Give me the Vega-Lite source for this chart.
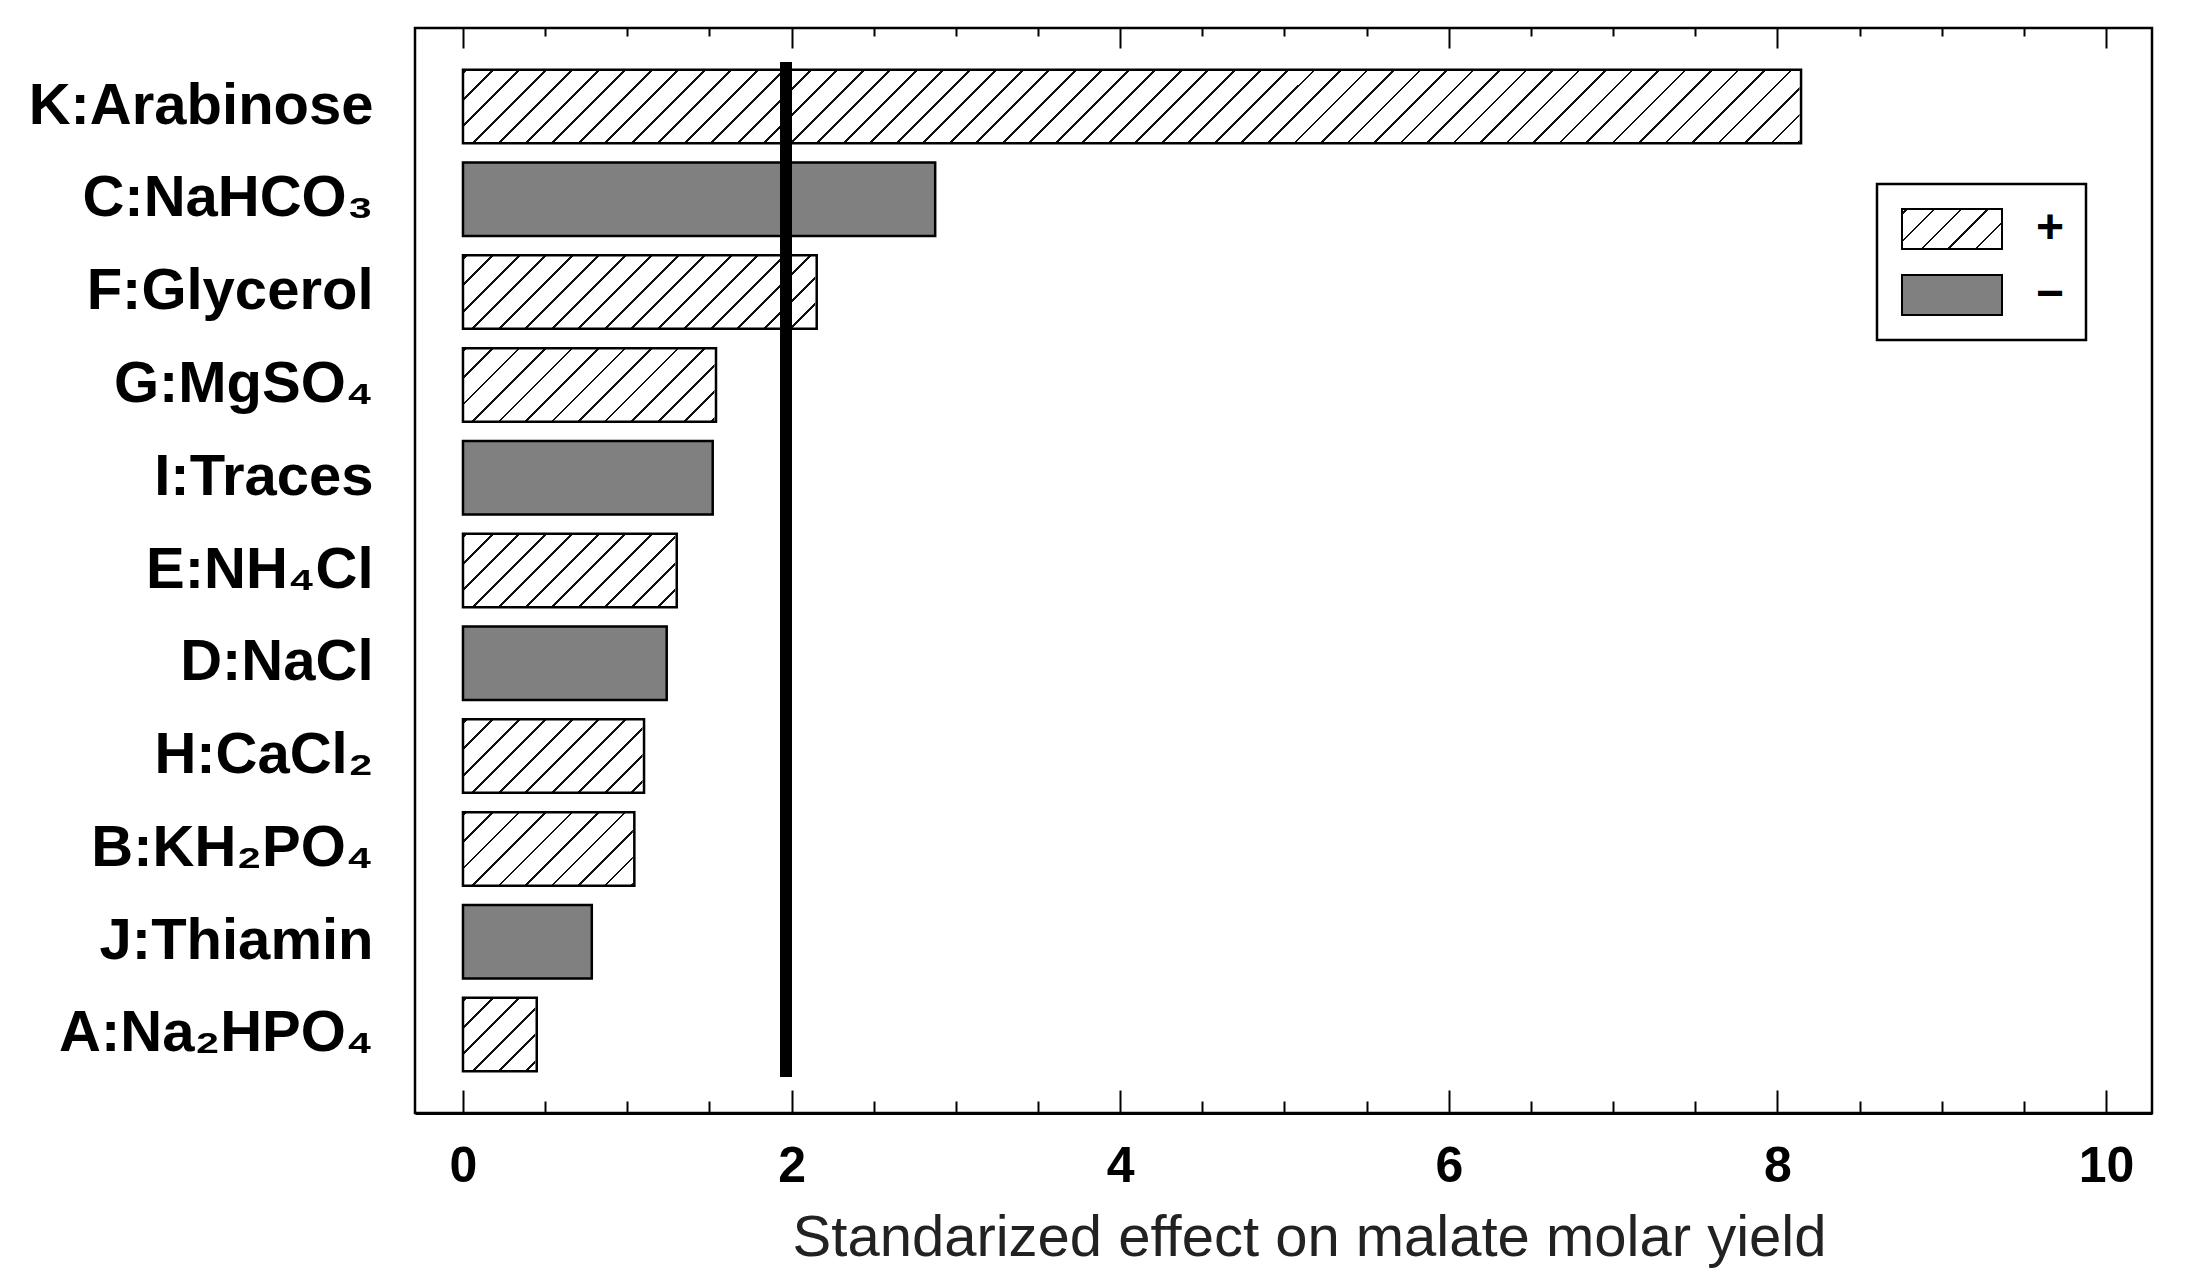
{
  "$schema": "https://vega.github.io/schema/vega-lite/v6.json",
  "width": 1737,
  "height": 1085,
  "autosize": {"type": "none"},
  "padding": {"left": 415, "top": 28, "right": 35, "bottom": 171},
  "background": "white",
  "config": {
    "view": {"stroke": "black", "strokeWidth": 2.5},
    "font": "Liberation Sans",
    "legend": {"strokeWidth": 2.5}
  },
  "data": {
    "values": [
      {"factor": "K:Arabinose", "effect": 8.144, "sign": "+"},
      {"factor": "C:NaHCO₃", "effect": 2.874, "sign": "−"},
      {"factor": "F:Glycerol", "effect": 2.153, "sign": "+"},
      {"factor": "G:MgSO₄", "effect": 1.540, "sign": "+"},
      {"factor": "I:Traces", "effect": 1.520, "sign": "−"},
      {"factor": "E:NH₄Cl", "effect": 1.301, "sign": "+"},
      {"factor": "D:NaCl", "effect": 1.240, "sign": "−"},
      {"factor": "H:CaCl₂", "effect": 1.102, "sign": "+"},
      {"factor": "B:KH₂PO₄", "effect": 1.043, "sign": "+"},
      {"factor": "J:Thiamin", "effect": 0.784, "sign": "−"},
      {"factor": "A:Na₂HPO₄", "effect": 0.449, "sign": "+"}
    ]
  },
  "resolve": {"axis": {"x": "independent", "y": "independent"}},
  "layer": [
    {
      "transform": [{"filter": "datum.sign === '+'"}],
      "mark": {
        "type": "bar",
        "strokeWidth": 0,
        "fill": {
          "gradient": "linear", "x1": 0, "y1": 0, "x2": 1.04265, "y2": 0.046643,
          "stops": [
            {"offset": 0, "color": "#fff"},
            {"offset": 0.001166, "color": "#fff"}, {"offset": 0.001166, "color": "#111"}, {"offset": 0.002796, "color": "#111"}, {"offset": 0.002796, "color": "#fff"},
            {"offset": 0.016609, "color": "#fff"}, {"offset": 0.016609, "color": "#111"}, {"offset": 0.018239, "color": "#111"}, {"offset": 0.018239, "color": "#fff"},
            {"offset": 0.032052, "color": "#fff"}, {"offset": 0.032052, "color": "#111"}, {"offset": 0.033682, "color": "#111"}, {"offset": 0.033682, "color": "#fff"},
            {"offset": 0.047495, "color": "#fff"}, {"offset": 0.047495, "color": "#111"}, {"offset": 0.049125, "color": "#111"}, {"offset": 0.049125, "color": "#fff"},
            {"offset": 0.062938, "color": "#fff"}, {"offset": 0.062938, "color": "#111"}, {"offset": 0.064568, "color": "#111"}, {"offset": 0.064568, "color": "#fff"},
            {"offset": 0.078381, "color": "#fff"}, {"offset": 0.078381, "color": "#111"}, {"offset": 0.080011, "color": "#111"}, {"offset": 0.080011, "color": "#fff"},
            {"offset": 0.093824, "color": "#fff"}, {"offset": 0.093824, "color": "#111"}, {"offset": 0.095454, "color": "#111"}, {"offset": 0.095454, "color": "#fff"},
            {"offset": 0.109267, "color": "#fff"}, {"offset": 0.109267, "color": "#111"}, {"offset": 0.110897, "color": "#111"}, {"offset": 0.110897, "color": "#fff"},
            {"offset": 0.124710, "color": "#fff"}, {"offset": 0.124710, "color": "#111"}, {"offset": 0.126340, "color": "#111"}, {"offset": 0.126340, "color": "#fff"},
            {"offset": 0.140153, "color": "#fff"}, {"offset": 0.140153, "color": "#111"}, {"offset": 0.141783, "color": "#111"}, {"offset": 0.141783, "color": "#fff"},
            {"offset": 0.155596, "color": "#fff"}, {"offset": 0.155596, "color": "#111"}, {"offset": 0.157226, "color": "#111"}, {"offset": 0.157226, "color": "#fff"},
            {"offset": 0.171039, "color": "#fff"}, {"offset": 0.171039, "color": "#111"}, {"offset": 0.172669, "color": "#111"}, {"offset": 0.172669, "color": "#fff"},
            {"offset": 0.186482, "color": "#fff"}, {"offset": 0.186482, "color": "#111"}, {"offset": 0.188112, "color": "#111"}, {"offset": 0.188112, "color": "#fff"},
            {"offset": 0.201925, "color": "#fff"}, {"offset": 0.201925, "color": "#111"}, {"offset": 0.203555, "color": "#111"}, {"offset": 0.203555, "color": "#fff"},
            {"offset": 0.217368, "color": "#fff"}, {"offset": 0.217368, "color": "#111"}, {"offset": 0.218998, "color": "#111"}, {"offset": 0.218998, "color": "#fff"},
            {"offset": 0.232811, "color": "#fff"}, {"offset": 0.232811, "color": "#111"}, {"offset": 0.234441, "color": "#111"}, {"offset": 0.234441, "color": "#fff"},
            {"offset": 0.248254, "color": "#fff"}, {"offset": 0.248254, "color": "#111"}, {"offset": 0.249884, "color": "#111"}, {"offset": 0.249884, "color": "#fff"},
            {"offset": 0.263697, "color": "#fff"}, {"offset": 0.263697, "color": "#111"}, {"offset": 0.265327, "color": "#111"}, {"offset": 0.265327, "color": "#fff"},
            {"offset": 0.279140, "color": "#fff"}, {"offset": 0.279140, "color": "#111"}, {"offset": 0.280770, "color": "#111"}, {"offset": 0.280770, "color": "#fff"},
            {"offset": 0.294583, "color": "#fff"}, {"offset": 0.294583, "color": "#111"}, {"offset": 0.296213, "color": "#111"}, {"offset": 0.296213, "color": "#fff"},
            {"offset": 0.310026, "color": "#fff"}, {"offset": 0.310026, "color": "#111"}, {"offset": 0.311656, "color": "#111"}, {"offset": 0.311656, "color": "#fff"},
            {"offset": 0.325469, "color": "#fff"}, {"offset": 0.325469, "color": "#111"}, {"offset": 0.327099, "color": "#111"}, {"offset": 0.327099, "color": "#fff"},
            {"offset": 0.340912, "color": "#fff"}, {"offset": 0.340912, "color": "#111"}, {"offset": 0.342542, "color": "#111"}, {"offset": 0.342542, "color": "#fff"},
            {"offset": 0.356355, "color": "#fff"}, {"offset": 0.356355, "color": "#111"}, {"offset": 0.357985, "color": "#111"}, {"offset": 0.357985, "color": "#fff"},
            {"offset": 0.371798, "color": "#fff"}, {"offset": 0.371798, "color": "#111"}, {"offset": 0.373428, "color": "#111"}, {"offset": 0.373428, "color": "#fff"},
            {"offset": 0.387241, "color": "#fff"}, {"offset": 0.387241, "color": "#111"}, {"offset": 0.388871, "color": "#111"}, {"offset": 0.388871, "color": "#fff"},
            {"offset": 0.402684, "color": "#fff"}, {"offset": 0.402684, "color": "#111"}, {"offset": 0.404314, "color": "#111"}, {"offset": 0.404314, "color": "#fff"},
            {"offset": 0.418127, "color": "#fff"}, {"offset": 0.418127, "color": "#111"}, {"offset": 0.419757, "color": "#111"}, {"offset": 0.419757, "color": "#fff"},
            {"offset": 0.433570, "color": "#fff"}, {"offset": 0.433570, "color": "#111"}, {"offset": 0.435200, "color": "#111"}, {"offset": 0.435200, "color": "#fff"},
            {"offset": 0.449013, "color": "#fff"}, {"offset": 0.449013, "color": "#111"}, {"offset": 0.450643, "color": "#111"}, {"offset": 0.450643, "color": "#fff"},
            {"offset": 0.464456, "color": "#fff"}, {"offset": 0.464456, "color": "#111"}, {"offset": 0.466086, "color": "#111"}, {"offset": 0.466086, "color": "#fff"},
            {"offset": 0.479899, "color": "#fff"}, {"offset": 0.479899, "color": "#111"}, {"offset": 0.481529, "color": "#111"}, {"offset": 0.481529, "color": "#fff"},
            {"offset": 0.495342, "color": "#fff"}, {"offset": 0.495342, "color": "#111"}, {"offset": 0.496972, "color": "#111"}, {"offset": 0.496972, "color": "#fff"},
            {"offset": 0.510785, "color": "#fff"}, {"offset": 0.510785, "color": "#111"}, {"offset": 0.512415, "color": "#111"}, {"offset": 0.512415, "color": "#fff"},
            {"offset": 0.526228, "color": "#fff"}, {"offset": 0.526228, "color": "#111"}, {"offset": 0.527858, "color": "#111"}, {"offset": 0.527858, "color": "#fff"},
            {"offset": 0.541671, "color": "#fff"}, {"offset": 0.541671, "color": "#111"}, {"offset": 0.543301, "color": "#111"}, {"offset": 0.543301, "color": "#fff"},
            {"offset": 0.557114, "color": "#fff"}, {"offset": 0.557114, "color": "#111"}, {"offset": 0.558744, "color": "#111"}, {"offset": 0.558744, "color": "#fff"},
            {"offset": 0.572557, "color": "#fff"}, {"offset": 0.572557, "color": "#111"}, {"offset": 0.574187, "color": "#111"}, {"offset": 0.574187, "color": "#fff"},
            {"offset": 0.588000, "color": "#fff"}, {"offset": 0.588000, "color": "#111"}, {"offset": 0.589630, "color": "#111"}, {"offset": 0.589630, "color": "#fff"},
            {"offset": 0.603443, "color": "#fff"}, {"offset": 0.603443, "color": "#111"}, {"offset": 0.605073, "color": "#111"}, {"offset": 0.605073, "color": "#fff"},
            {"offset": 0.618886, "color": "#fff"}, {"offset": 0.618886, "color": "#111"}, {"offset": 0.620516, "color": "#111"}, {"offset": 0.620516, "color": "#fff"},
            {"offset": 0.634329, "color": "#fff"}, {"offset": 0.634329, "color": "#111"}, {"offset": 0.635959, "color": "#111"}, {"offset": 0.635959, "color": "#fff"},
            {"offset": 0.649772, "color": "#fff"}, {"offset": 0.649772, "color": "#111"}, {"offset": 0.651402, "color": "#111"}, {"offset": 0.651402, "color": "#fff"},
            {"offset": 0.665215, "color": "#fff"}, {"offset": 0.665215, "color": "#111"}, {"offset": 0.666845, "color": "#111"}, {"offset": 0.666845, "color": "#fff"},
            {"offset": 0.680658, "color": "#fff"}, {"offset": 0.680658, "color": "#111"}, {"offset": 0.682288, "color": "#111"}, {"offset": 0.682288, "color": "#fff"},
            {"offset": 0.696101, "color": "#fff"}, {"offset": 0.696101, "color": "#111"}, {"offset": 0.697731, "color": "#111"}, {"offset": 0.697731, "color": "#fff"},
            {"offset": 0.711544, "color": "#fff"}, {"offset": 0.711544, "color": "#111"}, {"offset": 0.713174, "color": "#111"}, {"offset": 0.713174, "color": "#fff"},
            {"offset": 0.726987, "color": "#fff"}, {"offset": 0.726987, "color": "#111"}, {"offset": 0.728617, "color": "#111"}, {"offset": 0.728617, "color": "#fff"},
            {"offset": 0.742430, "color": "#fff"}, {"offset": 0.742430, "color": "#111"}, {"offset": 0.744060, "color": "#111"}, {"offset": 0.744060, "color": "#fff"},
            {"offset": 0.757873, "color": "#fff"}, {"offset": 0.757873, "color": "#111"}, {"offset": 0.759503, "color": "#111"}, {"offset": 0.759503, "color": "#fff"},
            {"offset": 0.773316, "color": "#fff"}, {"offset": 0.773316, "color": "#111"}, {"offset": 0.774946, "color": "#111"}, {"offset": 0.774946, "color": "#fff"},
            {"offset": 0.788759, "color": "#fff"}, {"offset": 0.788759, "color": "#111"}, {"offset": 0.790389, "color": "#111"}, {"offset": 0.790389, "color": "#fff"},
            {"offset": 0.804202, "color": "#fff"}, {"offset": 0.804202, "color": "#111"}, {"offset": 0.805832, "color": "#111"}, {"offset": 0.805832, "color": "#fff"},
            {"offset": 0.819645, "color": "#fff"}, {"offset": 0.819645, "color": "#111"}, {"offset": 0.821275, "color": "#111"}, {"offset": 0.821275, "color": "#fff"},
            {"offset": 0.835088, "color": "#fff"}, {"offset": 0.835088, "color": "#111"}, {"offset": 0.836718, "color": "#111"}, {"offset": 0.836718, "color": "#fff"},
            {"offset": 1, "color": "#fff"}
          ]
        }
      },
      "encoding": {
        "y": {
          "field": "factor", "type": "nominal", "sort": null,
          "scale": {
            "domain": ["K:Arabinose", "C:NaHCO₃", "F:Glycerol", "G:MgSO₄", "I:Traces", "E:NH₄Cl", "D:NaCl", "H:CaCl₂", "B:KH₂PO₄", "J:Thiamin", "A:Na₂HPO₄"],
            "paddingInner": 0.208, "paddingOuter": 0.45
          },
          "axis": null
        },
        "x": {
          "datum": 0, "type": "quantitative",
          "scale": {"domain": [-0.292, 10.28], "nice": false, "zero": false},
          "axis": {
            "orient": "bottom",
            "values": [0, 0.5, 1, 1.5, 2, 2.5, 3, 3.5, 4, 4.5, 5, 5.5, 6, 6.5, 7, 7.5, 8, 8.5, 9, 9.5, 10],
            "tickSize": {"condition": {"test": "datum.value % 2 === 0", "value": -23}, "value": -12},
            "tickColor": "black", "tickWidth": 2,
            "domain": true, "domainColor": "black", "domainWidth": 3,
            "grid": false,
            "labelExpr": "datum.value % 2 === 0 ? format(datum.value, 'd') : ''",
            "labelOverlap": false, "labelFlush": false,
            "labelFont": "Liberation Sans", "labelFontWeight": "bold", "labelFontSize": 50, "labelColor": "black",
            "labelBaseline": "alphabetic", "labelPadding": 91,
            "title": "Standarized effect on malate molar yield",
            "titleFont": "Liberation Sans", "titleFontWeight": "normal", "titleFontSize": 58, "titleColor": "#222",
            "titleBaseline": "alphabetic", "titleAlign": "center", "titleAnchor": "start", "titleX": 894, "titleY": 142,
            "zindex": 1
          }
        },
        "x2": {"datum": 10}
      }
    },
    {
      "transform": [{"filter": "datum.sign === '+'"}],
      "mark": {"type": "bar", "fill": "white", "stroke": "white", "strokeWidth": 3},
      "encoding": {
        "y": {"field": "factor", "type": "nominal", "sort": null, "axis": null},
        "x": {
          "field": "effect", "type": "quantitative",
          "axis": {
            "orient": "top",
            "values": [0, 0.5, 1, 1.5, 2, 2.5, 3, 3.5, 4, 4.5, 5, 5.5, 6, 6.5, 7, 7.5, 8, 8.5, 9, 9.5, 10],
            "tickSize": {"condition": {"test": "datum.value % 2 === 0", "value": -20}, "value": -8},
            "tickColor": "black", "tickWidth": 2,
            "domain": false, "labels": false, "grid": false, "title": null, "zindex": 1
          }
        },
        "x2": {"datum": 10.05}
      }
    },
    {
      "mark": {"type": "bar", "stroke": "black", "strokeWidth": 2.5},
      "encoding": {
        "y": {
          "field": "factor", "type": "nominal", "sort": null,
          "axis": {
            "title": null, "ticks": false, "domain": false, "grid": false,
            "labelFont": "Liberation Sans", "labelFontWeight": "bold", "labelFontSize": 58, "labelColor": "black",
            "labelPadding": 42, "labelLimit": 600
          }
        },
        "x": {"field": "effect", "type": "quantitative", "scale": {"domain": [-0.292, 10.28], "nice": false, "zero": false}, "axis": null},
        "fill": {"condition": {"test": "datum.sign === '−'", "value": "#808080"}, "value": "transparent"}
      }
    },
    {
      "transform": [{"filter": "false"}],
      "mark": {"type": "bar"},
      "encoding": {
        "y": {"field": "factor", "type": "nominal", "sort": null, "axis": null},
        "x": {"field": "effect", "type": "quantitative", "axis": null},
        "fill": {
          "field": "sign", "type": "nominal",
          "scale": {
            "domain": ["+", "−"],
            "range": [
              {"expr": "{gradient: 'linear', x1: 0, y1: 0, x2: 1.206897, y2: 0.482759, stops: [{offset: 0, color: '#fff'}, {offset: 0.02857, color: '#fff'}, {offset: 0.02857, color: '#111'}, {offset: 0.04857, color: '#111'}, {offset: 0.04857, color: '#fff'}, {offset: 0.22143, color: '#fff'}, {offset: 0.22143, color: '#111'}, {offset: 0.24143, color: '#111'}, {offset: 0.24143, color: '#fff'}, {offset: 0.41429, color: '#fff'}, {offset: 0.41429, color: '#111'}, {offset: 0.43429, color: '#111'}, {offset: 0.43429, color: '#fff'}, {offset: 0.60714, color: '#fff'}, {offset: 0.60714, color: '#111'}, {offset: 0.62714, color: '#111'}, {offset: 0.62714, color: '#fff'}, {offset: 0.8, color: '#fff'}, {offset: 0.8, color: '#111'}, {offset: 0.82, color: '#111'}, {offset: 0.82, color: '#fff'}, {offset: 0.99286, color: '#fff'}, {offset: 0.99286, color: '#111'}, {offset: 1, color: '#111'}]}"},
              "#808080"
            ]
          },
          "legend": {
            "title": null, "orient": "none", "legendX": 1462, "legendY": 156,
            "direction": "vertical",
            "padding": 21, "strokeColor": "black", "fillColor": "white", "cornerRadius": 0,
            "symbolType": "M-1,-1H4V1H-1Z", "symbolSize": 1600,
            "symbolStrokeColor": "black", "symbolStrokeWidth": 2,
            "labelFont": "Liberation Sans", "labelFontWeight": "bold", "labelFontSize": 48, "labelColor": "black",
            "labelOffset": 90, "rowPadding": 18
          }
        }
      }
    },
    {
      "mark": {"type": "rule", "color": "black", "strokeWidth": 11},
      "encoding": {
        "x": {"datum": 1.967, "type": "quantitative", "axis": null},
        "y": {"datum": "K:Arabinose", "type": "nominal", "bandPosition": -0.105, "axis": null},
        "y2": {"datum": "A:Na₂HPO₄", "bandPosition": 1.08}
      }
    }
  ]
}
